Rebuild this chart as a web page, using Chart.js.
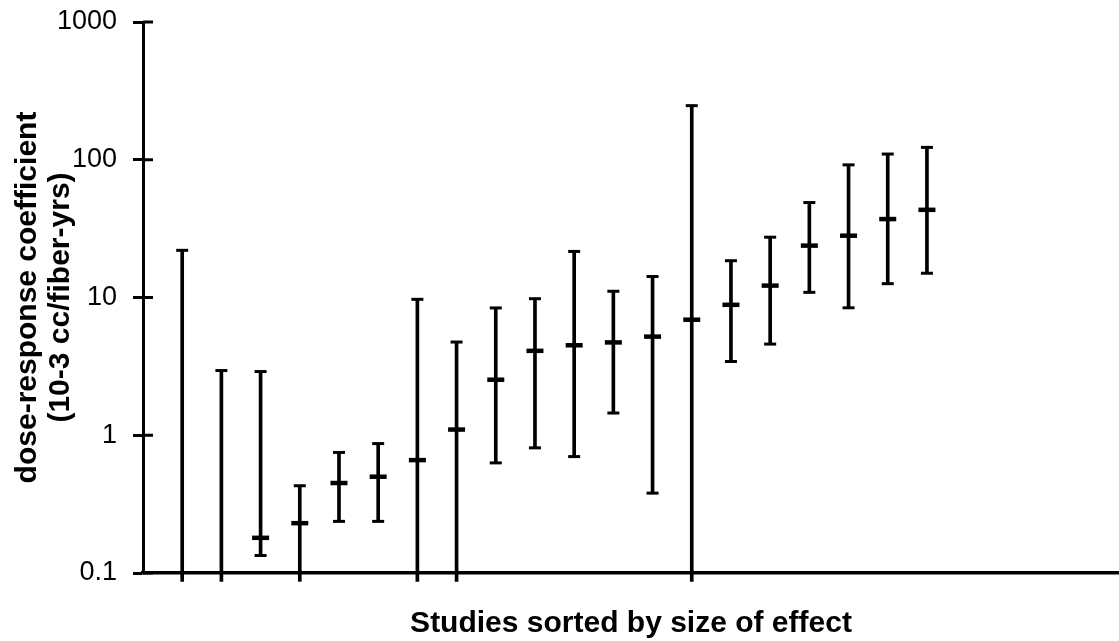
<!DOCTYPE html>
<html>
<head>
<meta charset="utf-8">
<script src="https://cdn.jsdelivr.net/npm/chart.js@4.4.0/dist/chart.umd.min.js"></script>
<style>
  html, body { margin: 0; padding: 0; background: #fff; overflow: hidden; }
  canvas { display: block; }
</style>
</head>
<body>
<canvas id="myChart" width="1119" height="641"></canvas>
<script>
//---------------DATA-------------
// study number along the x axis (sorted by size of effect)
let studies = [1, 2, 3, 4, 5, 6, 7, 8, 9, 10, 11, 12, 13, 14, 15, 16, 17, 18, 19, 20];
// central estimate (null = below the plotted range)
let means = [null, null, 0.18, 0.23, 0.45, 0.5, 0.66, 1.1, 2.53, 4.1, 4.5, 4.72, 5.2, 6.9, 8.85, 12.2, 23.8, 28.1, 37.1, 43.3];
// upper and lower limits (lower under 0.1 run off the bottom of the axis)
let uppers = [22, 2.95, 2.9, 0.43, 0.75, 0.87, 9.7, 4.75, 8.4, 9.8, 21.6, 11.1, 14.2, 247, 18.5, 27.4, 48.9, 91.8, 110, 123];
let lowers = [0.087, 0.087, 0.134, 0.087, 0.237, 0.237, 0.087, 0.087, 0.63, 0.81, 0.7, 1.45, 0.38, 0.087, 3.43, 4.59, 10.9, 8.42, 12.6, 15.0];
// y axis ticks
let yTickValues = [0.1, 1, 10, 100, 1000];
let yTickLabels = ["0.1", "1", "10", "100", "1000"];

let FONT = "'Liberation Sans', Arial, Helvetica, sans-serif";

//---------------BUILD THE POINTS-------------
let barData = studies.map((s, i) => ({ x: s, y: [lowers[i], uppers[i]] }));
let capData = [];
studies.forEach((s, i) => {
  capData.push({ x: s, y: uppers[i] });
  if (lowers[i] >= 0.1) capData.push({ x: s, y: lowers[i] });
});
let meanData = studies.map((s, i) => ({ x: s, y: means[i] })).filter((p) => p.y !== null);

// y ticks also cross into the plot a little
const innerTicks = {
  id: "innerTicks",
  afterDraw(chart) {
    let y = chart.scales.y, ctx = chart.ctx, left = chart.chartArea.left;
    ctx.save();
    ctx.strokeStyle = "#000";
    ctx.lineWidth = 3;
    yTickValues.forEach((v) => {
      let py = y.getPixelForValue(v);
      ctx.beginPath();
      ctx.moveTo(left, py);
      ctx.lineTo(left + 10, py);
      ctx.stroke();
    });
    ctx.restore();
  },
};

//---------------CHART-------------
let ctx = document.getElementById("myChart").getContext("2d");
let myChart = new Chart(ctx, {
  type: "bar",
  data: {
    datasets: [
      {
        label: "range",
        data: barData,
        backgroundColor: "#000",
        borderWidth: 0,
        barThickness: 3,
        clip: false,
        order: 3,
      },
      {
        type: "scatter",
        label: "caps",
        data: capData,
        pointStyle: "line",
        radius: 6,
        borderWidth: 3,
        borderColor: "#000",
        clip: false,
        order: 2,
      },
      {
        type: "scatter",
        label: "estimate",
        data: meanData,
        pointStyle: "line",
        radius: 8.5,
        borderWidth: 4.5,
        borderColor: "#000",
        order: 1,
      },
    ],
  },
  options: {
    responsive: false,
    animation: false,
    layout: { autoPadding: false, padding: { top: 22, right: 0, left: 0, bottom: 0 } },
    plugins: { legend: { display: false }, tooltip: { enabled: false } },
    scales: {
      x: {
        type: "linear",
        offset: false,
        min: 0,
        max: 24.9,
        afterFit(scale) {
          scale.height = 68;
          scale.paddingLeft = 0;
          scale.paddingRight = 0;
        },
        ticks: { display: false },
        grid: { display: true, drawOnChartArea: false, drawTicks: false },
        border: { display: true, color: "#000", width: 3.5 },
        title: {
          display: true,
          text: "Studies sorted by size of effect",
          color: "#000",
          font: { family: FONT, size: 30, weight: "bold", lineHeight: 1 },
          padding: { top: 0, bottom: 2 },
        },
      },
      y: {
        type: "logarithmic",
        min: 0.1,
        max: 1000,
        afterFit(scale) {
          scale.width = 143;
          scale.paddingTop = 0;
          scale.paddingBottom = 0;
        },
        afterBuildTicks(scale) {
          scale.ticks = yTickValues.map((v) => ({ value: v }));
        },
        ticks: {
          color: "#000",
          padding: 16,
          font: { family: FONT, size: 27 },
          callback: (v) => yTickLabels[yTickValues.indexOf(v)],
        },
        grid: { drawOnChartArea: false, tickLength: 10, tickWidth: 3, tickColor: "#000" },
        border: { display: true, color: "#000", width: 3 },
        title: {
          display: true,
          text: ["dose-response coefficient", "(10-3 cc/fiber-yrs)"],
          color: "#000",
          font: { family: FONT, size: 30, weight: "bold", lineHeight: 1.1 },
          padding: { top: 11, bottom: 0 },
        },
      },
    },
  },
  plugins: [innerTicks],
});
</script>
</body>
</html>
